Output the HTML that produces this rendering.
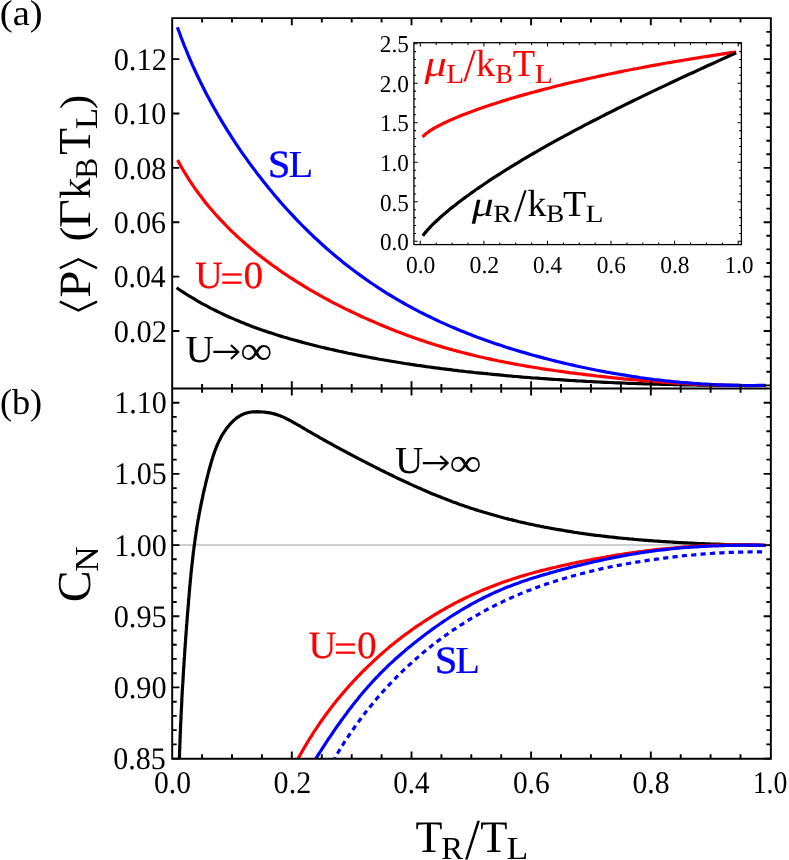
<!DOCTYPE html>
<html><head><meta charset="utf-8"><title>chart</title>
<style>html,body{margin:0;padding:0;background:#fff;}body{width:789px;height:860px;overflow:hidden;font-family:"Liberation Serif",serif;}svg{will-change:transform;}svg text{font-family:"Liberation Serif",serif;}</style></head>
<body>
<svg width="789" height="860" viewBox="0 0 789 860" font-family="'Liberation Serif', serif" text-rendering="geometricPrecision" style="display:block">
<rect width="789" height="860" fill="#fff"/>
<defs><clipPath id="ca"><rect x="172.2" y="18.3" width="598.2" height="370.09999999999997"/></clipPath><clipPath id="cb"><rect x="172.2" y="388.4" width="598.2" height="370.1"/></clipPath></defs>
<line x1="172.2" x2="770.4" y1="545.1" y2="545.1" stroke="#bebebe" stroke-width="1.5"/>
<path d="M176.6,287.7 L179.1,289.5 L181.6,291.2 L184.2,292.8 L186.8,294.5 L189.4,296.1 L192.0,297.7 L194.6,299.2 L197.2,300.8 L199.9,302.3 L202.5,303.8 L205.2,305.2 L207.9,306.7 L210.5,308.1 L213.2,309.4 L216.0,310.8 L218.7,312.1 L221.4,313.4 L224.1,314.7 L226.9,316.0 L229.6,317.2 L232.4,318.4 L235.2,319.6 L238.0,320.8 L240.8,322.0 L243.6,323.1 L246.4,324.2 L249.2,325.3 L252.0,326.4 L254.8,327.4 L257.7,328.4 L260.5,329.5 L263.4,330.5 L266.3,331.4 L269.1,332.4 L272.0,333.3 L274.9,334.3 L277.8,335.2 L280.7,336.1 L283.6,337.0 L286.5,337.8 L289.4,338.7 L292.3,339.5 L295.2,340.3 L298.1,341.1 L301.0,341.9 L304.0,342.7 L306.9,343.5 L309.9,344.3 L312.8,345.0 L315.7,345.7 L318.7,346.5 L321.6,347.2 L324.6,347.9 L327.6,348.6 L330.5,349.3 L333.5,349.9 L336.4,350.6 L339.4,351.3 L342.4,351.9 L345.3,352.5 L348.3,353.2 L351.3,353.8 L354.3,354.4 L357.2,355.0 L360.2,355.6 L363.2,356.2 L366.2,356.7 L369.2,357.3 L372.2,357.9 L375.2,358.4 L378.2,359.0 L381.1,359.5 L384.1,360.0 L387.1,360.5 L390.1,361.0 L393.1,361.5 L396.1,362.0 L399.1,362.5 L402.1,363.0 L405.2,363.5 L408.2,363.9 L411.2,364.4 L414.2,364.8 L417.2,365.3 L420.2,365.7 L423.2,366.1 L426.2,366.6 L429.2,367.0 L432.2,367.4 L435.3,367.8 L438.3,368.2 L441.3,368.6 L444.3,368.9 L447.3,369.3 L450.4,369.7 L453.4,370.1 L456.4,370.4 L459.4,370.8 L462.4,371.1 L465.5,371.5 L468.5,371.8 L471.5,372.1 L474.5,372.5 L477.5,372.8 L480.6,373.1 L483.6,373.4 L486.6,373.7 L489.6,374.0 L492.6,374.3 L495.7,374.6 L498.7,374.9 L501.7,375.2 L504.7,375.5 L507.8,375.8 L510.8,376.0 L513.8,376.3 L516.8,376.5 L519.9,376.8 L522.9,377.1 L525.9,377.3 L528.9,377.5 L532.0,377.8 L535.0,378.0 L538.0,378.2 L541.0,378.5 L544.1,378.7 L547.1,378.9 L550.1,379.1 L553.1,379.3 L556.2,379.5 L559.2,379.7 L562.2,379.9 L565.2,380.1 L568.3,380.3 L571.3,380.5 L574.3,380.7 L577.3,380.9 L580.4,381.0 L583.4,381.2 L586.4,381.4 L589.5,381.5 L592.5,381.7 L595.5,381.8 L598.5,382.0 L601.6,382.1 L604.6,382.3 L607.6,382.4 L610.7,382.5 L613.7,382.7 L616.7,382.8 L619.8,382.9 L622.8,383.0 L625.8,383.2 L628.8,383.3 L631.9,383.4 L634.9,383.5 L637.9,383.6 L641.0,383.7 L644.0,383.8 L647.0,383.9 L650.1,384.0 L653.1,384.1 L656.1,384.2 L659.2,384.2 L662.2,384.3 L665.2,384.4 L668.3,384.5 L671.3,384.5 L674.4,384.6 L677.4,384.7 L680.4,384.7 L683.5,384.8 L686.5,384.9 L689.5,384.9 L692.6,385.0 L695.6,385.0 L698.6,385.1 L701.7,385.1 L704.7,385.1 L707.8,385.2 L710.8,385.2 L713.8,385.2 L716.9,385.3 L719.9,385.3 L723.0,385.3 L726.0,385.4 L729.0,385.4 L732.1,385.4 L735.1,385.4 L738.2,385.4 L741.2,385.5 L744.2,385.5 L747.3,385.5 L750.3,385.5 L753.4,385.5 L756.4,385.5 L759.5,385.5 L762.5,385.5 L765.6,385.5" fill="none" stroke="#000000" stroke-width="3.2" stroke-linejoin="round"/>
<path d="M177.6,160.1 L179.2,163.1 L180.8,166.0 L182.5,169.0 L184.2,171.9 L186.0,174.7 L187.7,177.5 L189.5,180.4 L191.4,183.1 L193.2,185.9 L195.1,188.6 L197.1,191.3 L199.0,194.0 L201.0,196.6 L203.0,199.3 L205.1,201.9 L207.1,204.4 L209.2,207.0 L211.4,209.5 L213.5,212.0 L215.7,214.5 L217.9,216.9 L220.1,219.3 L222.4,221.7 L224.7,224.1 L227.0,226.5 L229.3,228.8 L231.6,231.1 L234.0,233.4 L236.4,235.7 L238.8,237.9 L241.3,240.1 L243.7,242.3 L246.2,244.5 L248.7,246.6 L251.2,248.7 L253.8,250.8 L256.3,252.9 L258.9,255.0 L261.5,257.0 L264.1,259.0 L266.8,261.0 L269.4,263.0 L272.1,265.0 L274.8,266.9 L277.5,268.8 L280.2,270.7 L282.9,272.6 L285.6,274.4 L288.4,276.3 L291.2,278.1 L294.0,279.9 L296.7,281.7 L299.6,283.4 L302.4,285.2 L305.2,286.9 L308.1,288.6 L310.9,290.3 L313.8,291.9 L316.7,293.6 L319.5,295.2 L322.4,296.8 L325.4,298.4 L328.3,300.0 L331.2,301.6 L334.1,303.1 L337.1,304.6 L340.0,306.1 L343.0,307.6 L346.0,309.1 L349.0,310.5 L352.0,312.0 L355.0,313.4 L358.0,314.8 L361.0,316.2 L364.0,317.6 L367.0,318.9 L370.0,320.3 L373.1,321.6 L376.1,322.9 L379.2,324.2 L382.2,325.5 L385.3,326.8 L388.4,328.0 L391.4,329.3 L394.5,330.5 L397.6,331.7 L400.7,332.8 L403.8,334.0 L406.9,335.2 L410.0,336.3 L413.1,337.4 L416.2,338.5 L419.3,339.6 L422.5,340.6 L425.6,341.7 L428.7,342.7 L431.9,343.7 L435.0,344.7 L438.2,345.7 L441.3,346.6 L444.5,347.6 L447.7,348.5 L450.8,349.4 L454.0,350.3 L457.2,351.1 L460.4,352.0 L463.6,352.8 L466.8,353.6 L470.0,354.4 L473.2,355.2 L476.4,356.0 L479.6,356.8 L482.8,357.5 L486.1,358.2 L489.3,358.9 L492.5,359.6 L495.7,360.3 L499.0,361.0 L502.2,361.6 L505.5,362.3 L508.7,362.9 L512.0,363.5 L515.2,364.1 L518.5,364.7 L521.7,365.3 L525.0,365.9 L528.2,366.4 L531.5,367.0 L534.8,367.5 L538.0,368.0 L541.3,368.6 L544.6,369.1 L547.9,369.6 L551.1,370.0 L554.4,370.5 L557.7,371.0 L561.0,371.4 L564.3,371.9 L567.5,372.3 L570.8,372.8 L574.1,373.2 L577.4,373.6 L580.7,374.0 L584.0,374.4 L587.3,374.8 L590.6,375.2 L593.9,375.6 L597.1,376.0 L600.4,376.3 L603.7,376.7 L607.0,377.1 L610.3,377.4 L613.6,377.8 L616.9,378.1 L620.2,378.4 L623.5,378.8 L626.8,379.1 L630.1,379.4 L633.4,379.7 L636.7,380.0 L640.0,380.3 L643.3,380.6 L646.6,380.9 L649.9,381.2 L653.2,381.4 L656.4,381.7 L659.7,381.9 L663.0,382.2 L666.3,382.4 L669.6,382.7 L672.9,382.9 L676.2,383.1 L679.5,383.3 L682.8,383.5 L686.1,383.7 L689.4,383.9 L692.7,384.0 L696.0,384.2 L699.3,384.4 L702.7,384.5 L706.0,384.6 L709.3,384.8 L712.6,384.9 L715.9,385.0 L719.2,385.1 L722.5,385.2 L725.8,385.3 L729.1,385.3 L732.4,385.4 L735.7,385.5 L739.0,385.5 L742.3,385.5 L745.6,385.6 L748.9,385.6 L752.2,385.6 L755.6,385.6 L758.9,385.5 L762.2,385.5 L765.5,385.5" fill="none" stroke="#ff0000" stroke-width="3.2" stroke-linejoin="round"/>
<path d="M177.4,27.2 L178.7,30.7 L180.0,34.2 L181.2,37.6 L182.6,41.1 L183.9,44.6 L185.3,48.0 L186.7,51.4 L188.1,54.9 L189.6,58.3 L191.0,61.7 L192.5,65.1 L194.1,68.5 L195.6,71.8 L197.2,75.2 L198.8,78.6 L200.4,81.9 L202.1,85.2 L203.7,88.6 L205.4,91.9 L207.1,95.2 L208.9,98.4 L210.6,101.7 L212.4,105.0 L214.2,108.2 L216.1,111.4 L217.9,114.7 L219.8,117.9 L221.7,121.1 L223.6,124.3 L225.5,127.4 L227.5,130.6 L229.5,133.7 L231.5,136.9 L233.5,140.0 L235.5,143.1 L237.6,146.2 L239.7,149.3 L241.8,152.3 L243.9,155.4 L246.1,158.4 L248.2,161.4 L250.4,164.4 L252.6,167.4 L254.9,170.4 L257.1,173.4 L259.4,176.3 L261.7,179.3 L264.0,182.2 L266.3,185.1 L268.6,188.0 L271.0,190.8 L273.4,193.7 L275.7,196.5 L278.2,199.4 L280.6,202.2 L283.1,205.0 L285.5,207.7 L288.0,210.5 L290.5,213.2 L293.1,215.9 L295.6,218.6 L298.2,221.3 L300.8,224.0 L303.4,226.6 L306.0,229.2 L308.7,231.8 L311.4,234.4 L314.0,237.0 L316.8,239.5 L319.5,242.0 L322.2,244.5 L325.0,247.0 L327.8,249.5 L330.6,251.9 L333.4,254.3 L336.3,256.7 L339.2,259.0 L342.0,261.4 L344.9,263.7 L347.9,266.0 L350.8,268.3 L353.8,270.5 L356.7,272.7 L359.7,274.9 L362.8,277.1 L365.8,279.3 L368.8,281.4 L371.9,283.5 L375.0,285.5 L378.1,287.6 L381.2,289.6 L384.3,291.6 L387.4,293.6 L390.6,295.5 L393.8,297.4 L397.0,299.3 L400.2,301.2 L403.4,303.0 L406.6,304.9 L409.9,306.6 L413.1,308.4 L416.4,310.1 L419.7,311.8 L423.0,313.5 L426.3,315.2 L429.7,316.8 L433.0,318.4 L436.3,320.0 L439.7,321.6 L443.1,323.1 L446.5,324.6 L449.9,326.1 L453.3,327.6 L456.7,329.0 L460.1,330.4 L463.6,331.8 L467.0,333.2 L470.5,334.6 L473.9,335.9 L477.4,337.2 L480.9,338.5 L484.4,339.8 L487.9,341.0 L491.4,342.2 L494.9,343.5 L498.5,344.6 L502.0,345.8 L505.5,347.0 L509.1,348.1 L512.7,349.2 L516.2,350.3 L519.8,351.4 L523.4,352.4 L526.9,353.4 L530.5,354.5 L534.1,355.5 L537.7,356.4 L541.3,357.4 L544.9,358.4 L548.5,359.3 L552.1,360.2 L555.7,361.1 L559.4,362.0 L563.0,362.9 L566.6,363.7 L570.2,364.5 L573.9,365.4 L577.5,366.2 L581.1,367.0 L584.8,367.7 L588.4,368.5 L592.0,369.2 L595.7,370.0 L599.3,370.7 L603.0,371.4 L606.6,372.1 L610.3,372.7 L613.9,373.4 L617.6,374.0 L621.3,374.6 L624.9,375.2 L628.6,375.8 L632.2,376.4 L635.9,376.9 L639.6,377.5 L643.2,378.0 L646.9,378.5 L650.6,379.0 L654.3,379.5 L658.0,379.9 L661.6,380.3 L665.3,380.8 L669.0,381.2 L672.7,381.6 L676.4,381.9 L680.1,382.3 L683.8,382.6 L687.5,382.9 L691.2,383.2 L694.9,383.5 L698.6,383.7 L702.3,384.0 L706.0,384.2 L709.7,384.4 L713.4,384.6 L717.1,384.8 L720.8,384.9 L724.5,385.1 L728.3,385.2 L732.0,385.3 L735.7,385.4 L739.4,385.4 L743.2,385.5 L746.9,385.5 L750.6,385.5 L754.4,385.5 L758.1,385.4 L761.8,385.4 L765.6,385.3" fill="none" stroke="#0000ff" stroke-width="3.2" stroke-linejoin="round"/>
<path d="M179.3,762.0 L179.4,760.2 L179.4,758.4 L179.5,756.5 L179.5,754.7 L179.6,752.9 L179.6,751.1 L179.7,749.2 L179.8,747.4 L179.8,745.6 L179.9,743.8 L180.0,741.9 L180.0,740.1 L180.1,738.3 L180.2,736.5 L180.2,734.6 L180.3,732.8 L180.4,731.0 L180.5,729.2 L180.5,727.4 L180.6,725.5 L180.7,723.7 L180.8,721.9 L180.9,720.1 L181.0,718.3 L181.0,716.4 L181.1,714.6 L181.2,712.8 L181.3,711.0 L181.4,709.2 L181.5,707.3 L181.6,705.5 L181.7,703.7 L181.8,701.9 L181.8,700.1 L181.9,698.2 L182.0,696.4 L182.1,694.6 L182.2,692.8 L182.3,691.0 L182.4,689.1 L182.5,687.3 L182.6,685.5 L182.8,683.7 L182.9,681.9 L183.0,680.1 L183.1,678.2 L183.2,676.4 L183.3,674.6 L183.4,672.8 L183.5,671.0 L183.6,669.1 L183.7,667.3 L183.9,665.5 L184.0,663.7 L184.1,661.9 L184.2,660.1 L184.3,658.2 L184.5,656.4 L184.6,654.6 L184.7,652.8 L184.8,651.0 L184.9,649.2 L185.1,647.3 L185.2,645.5 L185.3,643.7 L185.5,641.9 L185.6,640.1 L185.7,638.3 L185.8,636.4 L186.0,634.6 L186.1,632.8 L186.2,631.0 L186.4,629.2 L186.5,627.3 L186.6,625.5 L186.8,623.7 L186.9,621.9 L187.1,620.1 L187.2,618.3 L187.3,616.4 L187.5,614.6 L187.6,612.8 L187.8,611.0 L187.9,609.2 L188.1,607.3 L188.2,605.5 L188.4,603.7 L188.5,601.9 L188.6,600.1 L188.8,598.2 L189.0,596.4 L189.1,594.6 L189.3,592.8 L189.4,591.0 L189.6,589.1 L189.7,587.3 L189.9,585.5 L190.1,583.7 L190.2,581.9 L190.4,580.0 L190.6,578.2 L190.8,576.4 L190.9,574.6 L191.1,572.8 L191.3,571.0 L191.5,569.1 L191.7,567.3 L191.9,565.5 L192.1,563.7 L192.3,561.9 L192.5,560.1 L192.7,558.3 L192.9,556.4 L193.1,554.6 L193.3,552.8 L193.5,551.0 L193.8,549.2 L194.0,547.4 L194.2,545.6 L194.5,543.8 L194.7,542.0 L195.0,540.2 L195.2,538.4 L195.5,536.6 L195.8,534.8 L196.0,533.0 L196.3,531.2 L196.6,529.4 L196.9,527.6 L197.1,525.8 L197.4,524.0 L197.7,522.2 L198.0,520.4 L198.4,518.6 L198.7,516.9 L199.0,515.1 L199.3,513.3 L199.7,511.5 L200.0,509.7 L200.4,507.9 L200.7,506.2 L201.1,504.4 L201.4,502.6 L201.8,500.8 L202.2,499.0 L202.6,497.3 L202.9,495.5 L203.3,493.7 L203.7,491.9 L204.1,490.2 L204.5,488.4 L205.0,486.6 L205.4,484.8 L205.8,483.0 L206.2,481.3 L206.7,479.5 L207.1,477.7 L207.6,475.9 L208.0,474.1 L208.5,472.4 L208.9,470.6 L209.4,468.8 L209.9,467.0 L210.4,465.2 L210.9,463.5 L211.4,461.7 L211.9,459.9 L212.5,458.2 L213.0,456.4 L213.6,454.7 L214.2,452.9 L214.8,451.2 L215.4,449.5 L216.1,447.8 L216.8,446.1 L217.5,444.4 L218.2,442.8 L219.0,441.1 L219.8,439.5 L220.7,437.9 L221.5,436.3 L222.4,434.7 L223.4,433.2 L224.3,431.7 L225.4,430.2 L226.4,428.7 L227.5,427.2 L228.7,425.8 L229.8,424.4 L231.1,423.1 L232.3,421.8 L233.7,420.5 L235.0,419.4 L236.4,418.2 L237.9,417.2 L239.4,416.2 L240.9,415.3 L242.5,414.5 L244.1,413.8 L245.8,413.2 L247.5,412.7 L249.3,412.3 L251.1,412.0 L253.0,411.9 L254.9,411.8 L256.8,411.7 L258.7,411.8 L260.6,411.9 L262.4,412.0 L264.3,412.2 L266.1,412.4 L268.0,412.6 L269.7,412.9 L271.5,413.2 L273.2,413.6 L275.0,414.1 L276.7,414.6 L278.3,415.2 L280.0,415.8 L281.7,416.4 L283.3,417.1 L284.9,417.9 L286.5,418.7 L288.1,419.5 L289.7,420.3 L291.3,421.2 L292.9,422.1 L294.5,423.0 L296.1,423.9 L297.7,424.8 L299.3,425.7 L300.9,426.7 L302.5,427.6 L304.1,428.5 L305.7,429.5 L307.2,430.4 L308.8,431.3 L310.4,432.2 L312.0,433.2 L313.6,434.1 L315.2,435.0 L316.9,435.9 L318.5,436.8 L320.1,437.8 L321.7,438.7 L323.3,439.6 L324.9,440.5 L326.5,441.4 L328.1,442.3 L329.7,443.1 L331.3,444.0 L332.9,444.9 L334.5,445.8 L336.1,446.7 L337.7,447.5 L339.3,448.4 L340.9,449.3 L342.5,450.1 L344.1,451.0 L345.7,451.8 L347.3,452.7 L348.9,453.5 L350.5,454.4 L352.1,455.2 L353.7,456.1 L355.3,456.9 L356.9,457.8 L358.5,458.6 L360.1,459.4 L361.8,460.3 L363.4,461.1 L365.0,461.9 L366.6,462.8 L368.2,463.6 L369.8,464.4 L371.5,465.2 L373.1,466.1 L374.7,466.9 L376.3,467.7 L378.0,468.5 L379.6,469.4 L381.2,470.2 L382.9,471.0 L384.5,471.8 L386.1,472.6 L387.8,473.4 L389.4,474.2 L391.1,475.0 L392.7,475.8 L394.3,476.6 L396.0,477.4 L397.6,478.2 L399.3,479.0 L400.9,479.7 L402.6,480.5 L404.2,481.3 L405.9,482.1 L407.6,482.8 L409.2,483.6 L410.9,484.4 L412.5,485.1 L414.2,485.9 L415.9,486.6 L417.5,487.4 L419.2,488.1 L420.9,488.8 L422.6,489.6 L424.2,490.3 L425.9,491.0 L427.6,491.7 L429.3,492.5 L430.9,493.2 L432.6,493.9 L434.3,494.6 L436.0,495.3 L437.7,495.9 L439.4,496.6 L441.1,497.3 L442.8,498.0 L444.5,498.6 L446.2,499.3 L447.9,499.9 L449.6,500.6 L451.3,501.2 L453.0,501.9 L454.7,502.5 L456.4,503.1 L458.1,503.7 L459.8,504.4 L461.5,505.0 L463.3,505.6 L465.0,506.2 L466.7,506.7 L468.4,507.3 L470.1,507.9 L471.9,508.5 L473.6,509.0 L475.3,509.6 L477.1,510.1 L478.8,510.7 L480.5,511.2 L482.3,511.7 L484.0,512.3 L485.8,512.8 L487.5,513.3 L489.2,513.8 L491.0,514.3 L492.7,514.8 L494.5,515.3 L496.2,515.8 L498.0,516.3 L499.7,516.8 L501.5,517.2 L503.3,517.7 L505.0,518.2 L506.8,518.6 L508.5,519.1 L510.3,519.5 L512.1,519.9 L513.8,520.4 L515.6,520.8 L517.4,521.2 L519.1,521.7 L520.9,522.1 L522.7,522.5 L524.4,522.9 L526.2,523.3 L528.0,523.7 L529.8,524.1 L531.6,524.4 L533.3,524.8 L535.1,525.2 L536.9,525.6 L538.7,525.9 L540.5,526.3 L542.2,526.6 L544.0,527.0 L545.8,527.3 L547.6,527.7 L549.4,528.0 L551.2,528.3 L553.0,528.7 L554.8,529.0 L556.6,529.3 L558.4,529.6 L560.2,529.9 L562.0,530.2 L563.8,530.5 L565.6,530.8 L567.4,531.1 L569.2,531.4 L571.0,531.7 L572.8,532.0 L574.6,532.3 L576.4,532.5 L578.2,532.8 L580.0,533.1 L581.8,533.3 L583.6,533.6 L585.4,533.8 L587.2,534.1 L589.0,534.3 L590.8,534.6 L592.6,534.8 L594.5,535.1 L596.3,535.3 L598.1,535.5 L599.9,535.7 L601.7,536.0 L603.5,536.2 L605.3,536.4 L607.2,536.6 L609.0,536.8 L610.8,537.0 L612.6,537.2 L614.4,537.4 L616.2,537.6 L618.1,537.8 L619.9,538.0 L621.7,538.2 L623.5,538.3 L625.3,538.5 L627.2,538.7 L629.0,538.9 L630.8,539.0 L632.6,539.2 L634.4,539.4 L636.3,539.5 L638.1,539.7 L639.9,539.8 L641.7,540.0 L643.6,540.1 L645.4,540.3 L647.2,540.4 L649.0,540.6 L650.8,540.7 L652.7,540.8 L654.5,541.0 L656.3,541.1 L658.1,541.2 L660.0,541.3 L661.8,541.5 L663.6,541.6 L665.4,541.7 L667.3,541.8 L669.1,541.9 L670.9,542.0 L672.7,542.1 L674.6,542.3 L676.4,542.4 L678.2,542.5 L680.0,542.6 L681.9,542.7 L683.7,542.8 L685.5,542.8 L687.3,542.9 L689.1,543.0 L691.0,543.1 L692.8,543.2 L694.6,543.3 L696.4,543.4 L698.3,543.5 L700.1,543.5 L701.9,543.6 L703.7,543.7 L705.5,543.8 L707.4,543.8 L709.2,543.9 L711.0,544.0 L712.8,544.0 L714.6,544.1 L716.4,544.2 L718.3,544.2 L720.1,544.3 L721.9,544.4 L723.7,544.4 L725.5,544.5 L727.3,544.6 L729.2,544.6 L731.0,544.7 L732.8,544.7 L734.6,544.8 L736.4,544.8 L738.2,544.9 L740.0,544.9 L741.8,545.0 L743.6,545.0 L745.5,545.1 L747.3,545.1 L749.1,545.2 L750.9,545.2 L752.7,545.3 L754.5,545.3 L756.3,545.4 L758.1,545.4 L759.9,545.4 L761.7,545.5 L763.5,545.5 L765.3,545.6" fill="none" stroke="#000000" stroke-width="3.2" stroke-linejoin="round" clip-path="url(#cb)"/>
<path d="M296.3,762.1 L297.6,759.7 L298.9,757.2 L300.2,754.8 L301.6,752.4 L302.9,750.0 L304.3,747.6 L305.7,745.2 L307.1,742.9 L308.5,740.5 L310.0,738.1 L311.5,735.8 L312.9,733.5 L314.4,731.2 L316.0,728.9 L317.5,726.6 L319.0,724.3 L320.6,722.0 L322.2,719.8 L323.8,717.5 L325.4,715.3 L327.0,713.1 L328.7,710.9 L330.3,708.7 L332.0,706.5 L333.7,704.3 L335.4,702.2 L337.1,700.0 L338.9,697.9 L340.6,695.8 L342.4,693.7 L344.2,691.6 L346.0,689.5 L347.8,687.5 L349.6,685.4 L351.5,683.4 L353.3,681.3 L355.2,679.3 L357.1,677.3 L359.0,675.4 L360.9,673.4 L362.8,671.4 L364.8,669.5 L366.7,667.6 L368.7,665.7 L370.7,663.8 L372.7,661.9 L374.7,660.0 L376.7,658.2 L378.7,656.3 L380.8,654.5 L382.8,652.7 L384.9,650.9 L387.0,649.1 L389.1,647.3 L391.2,645.6 L393.3,643.9 L395.5,642.1 L397.6,640.4 L399.8,638.8 L402.0,637.1 L404.2,635.4 L406.4,633.8 L408.6,632.2 L410.8,630.6 L413.0,629.0 L415.3,627.4 L417.5,625.8 L419.8,624.3 L422.1,622.8 L424.3,621.3 L426.6,619.8 L429.0,618.3 L431.3,616.8 L433.6,615.4 L436.0,614.0 L438.3,612.6 L440.7,611.2 L443.0,609.8 L445.4,608.5 L447.8,607.1 L450.2,605.8 L452.6,604.5 L455.1,603.2 L457.5,601.9 L459.9,600.7 L462.4,599.5 L464.8,598.3 L467.3,597.1 L469.8,595.9 L472.3,594.7 L474.8,593.6 L477.3,592.5 L479.8,591.4 L482.3,590.3 L484.8,589.2 L487.4,588.2 L489.9,587.2 L492.5,586.2 L495.0,585.2 L497.6,584.2 L500.2,583.3 L502.8,582.3 L505.4,581.4 L508.0,580.5 L510.6,579.7 L513.2,578.8 L515.8,578.0 L518.4,577.1 L521.1,576.3 L523.7,575.6 L526.3,574.8 L529.0,574.0 L531.6,573.3 L534.3,572.5 L537.0,571.8 L539.6,571.1 L542.3,570.4 L545.0,569.8 L547.7,569.1 L550.3,568.4 L553.0,567.8 L555.7,567.2 L558.4,566.5 L561.1,565.9 L563.8,565.3 L566.5,564.7 L569.2,564.1 L571.8,563.5 L574.5,563.0 L577.2,562.4 L579.9,561.8 L582.6,561.3 L585.3,560.8 L588.0,560.2 L590.7,559.7 L593.5,559.2 L596.2,558.7 L598.9,558.2 L601.6,557.7 L604.3,557.2 L607.0,556.7 L609.7,556.3 L612.4,555.8 L615.1,555.4 L617.8,554.9 L620.5,554.5 L623.3,554.1 L626.0,553.7 L628.7,553.3 L631.4,552.9 L634.1,552.5 L636.9,552.1 L639.6,551.7 L642.3,551.4 L645.0,551.0 L647.7,550.7 L650.5,550.4 L653.2,550.0 L655.9,549.7 L658.6,549.4 L661.4,549.1 L664.1,548.8 L666.8,548.5 L669.5,548.3 L672.3,548.0 L675.0,547.8 L677.7,547.5 L680.4,547.3 L683.2,547.1 L685.9,546.9 L688.6,546.7 L691.4,546.5 L694.1,546.3 L696.8,546.1 L699.6,546.0 L702.3,545.8 L705.1,545.7 L707.8,545.5 L710.5,545.4 L713.3,545.3 L716.0,545.2 L718.7,545.1 L721.5,545.0 L724.2,545.0 L727.0,544.9 L729.7,544.9 L732.5,544.8 L735.2,544.8 L738.0,544.8 L740.7,544.8 L743.5,544.8 L746.2,544.8 L749.0,544.8 L751.7,544.9 L754.5,544.9 L757.2,545.0 L760.0,545.1 L762.8,545.2 L765.5,545.3" fill="none" stroke="#ff0000" stroke-width="3.2" stroke-linejoin="round" clip-path="url(#cb)"/>
<path d="M332.9,761.9 L334.1,759.7 L335.3,757.4 L336.5,755.2 L337.8,753.0 L339.1,750.8 L340.4,748.6 L341.7,746.5 L343.1,744.3 L344.4,742.2 L345.8,740.1 L347.2,737.9 L348.7,735.8 L350.1,733.7 L351.5,731.6 L353.0,729.5 L354.4,727.5 L355.9,725.4 L357.4,723.3 L358.9,721.3 L360.4,719.2 L361.9,717.2 L363.5,715.2 L365.0,713.1 L366.6,711.1 L368.2,709.1 L369.8,707.1 L371.4,705.2 L373.0,703.2 L374.6,701.2 L376.2,699.3 L377.9,697.3 L379.6,695.4 L381.2,693.5 L382.9,691.6 L384.6,689.7 L386.3,687.8 L388.1,685.9 L389.8,684.1 L391.6,682.2 L393.3,680.4 L395.1,678.6 L396.9,676.7 L398.7,674.9 L400.5,673.2 L402.3,671.4 L404.2,669.6 L406.0,667.9 L407.9,666.1 L409.8,664.4 L411.7,662.7 L413.5,661.0 L415.5,659.3 L417.4,657.6 L419.3,655.9 L421.3,654.3 L423.2,652.6 L425.2,651.0 L427.1,649.4 L429.1,647.8 L431.1,646.2 L433.1,644.6 L435.1,643.1 L437.2,641.5 L439.2,640.0 L441.3,638.5 L443.3,637.0 L445.4,635.5 L447.5,634.0 L449.5,632.6 L451.6,631.1 L453.7,629.7 L455.9,628.3 L458.0,626.9 L460.1,625.5 L462.3,624.1 L464.4,622.7 L466.6,621.4 L468.7,620.0 L470.9,618.7 L473.1,617.4 L475.3,616.1 L477.5,614.9 L479.7,613.6 L481.9,612.4 L484.2,611.1 L486.4,609.9 L488.6,608.7 L490.9,607.5 L493.2,606.4 L495.4,605.2 L497.7,604.1 L500.0,603.0 L502.3,601.9 L504.6,600.8 L506.9,599.7 L509.2,598.7 L511.5,597.6 L513.8,596.6 L516.2,595.6 L518.5,594.6 L520.8,593.6 L523.2,592.7 L525.6,591.7 L527.9,590.8 L530.3,589.9 L532.7,589.0 L535.0,588.1 L537.4,587.2 L539.8,586.3 L542.2,585.5 L544.6,584.7 L547.0,583.8 L549.5,583.0 L551.9,582.2 L554.3,581.5 L556.7,580.7 L559.2,579.9 L561.6,579.2 L564.0,578.5 L566.5,577.7 L568.9,577.0 L571.4,576.3 L573.8,575.7 L576.3,575.0 L578.8,574.3 L581.2,573.7 L583.7,573.1 L586.2,572.4 L588.7,571.8 L591.1,571.2 L593.6,570.6 L596.1,570.1 L598.6,569.5 L601.1,568.9 L603.6,568.4 L606.1,567.9 L608.6,567.3 L611.1,566.8 L613.6,566.3 L616.1,565.8 L618.6,565.3 L621.1,564.9 L623.6,564.4 L626.2,563.9 L628.7,563.5 L631.2,563.0 L633.7,562.6 L636.2,562.2 L638.7,561.8 L641.3,561.4 L643.8,561.0 L646.3,560.6 L648.8,560.2 L651.3,559.8 L653.9,559.5 L656.4,559.1 L658.9,558.8 L661.4,558.4 L664.0,558.1 L666.5,557.8 L669.0,557.5 L671.5,557.2 L674.1,556.9 L676.6,556.6 L679.1,556.3 L681.6,556.0 L684.2,555.7 L686.7,555.5 L689.2,555.2 L691.7,555.0 L694.3,554.8 L696.8,554.5 L699.3,554.3 L701.9,554.1 L704.4,553.9 L706.9,553.7 L709.5,553.5 L712.0,553.4 L714.5,553.2 L717.1,553.1 L719.6,552.9 L722.2,552.8 L724.7,552.7 L727.2,552.5 L729.8,552.4 L732.3,552.3 L734.9,552.3 L737.4,552.2 L740.0,552.1 L742.5,552.1 L745.1,552.0 L747.6,552.0 L750.2,551.9 L752.7,551.9 L755.3,551.9 L757.8,551.9 L760.4,551.9 L763.0,551.9 L765.5,552.0" fill="none" stroke="#0000ff" stroke-width="3.2" stroke-linejoin="round" stroke-dasharray="5.2 4.2" clip-path="url(#cb)"/>
<path d="M313.7,762.1 L315.1,759.9 L316.5,757.6 L317.9,755.4 L319.3,753.1 L320.8,750.9 L322.2,748.6 L323.7,746.4 L325.1,744.2 L326.6,741.9 L328.0,739.7 L329.5,737.5 L331.0,735.3 L332.5,733.1 L334.0,730.9 L335.5,728.7 L337.0,726.5 L338.6,724.3 L340.1,722.2 L341.6,720.0 L343.2,717.9 L344.8,715.7 L346.4,713.6 L347.9,711.4 L349.6,709.3 L351.2,707.2 L352.8,705.1 L354.4,703.0 L356.1,701.0 L357.8,698.9 L359.4,696.8 L361.1,694.8 L362.8,692.8 L364.5,690.7 L366.3,688.7 L368.0,686.7 L369.8,684.8 L371.6,682.8 L373.3,680.8 L375.1,678.9 L377.0,677.0 L378.8,675.1 L380.6,673.2 L382.5,671.3 L384.4,669.4 L386.3,667.6 L388.2,665.7 L390.1,663.9 L392.1,662.1 L394.0,660.3 L396.0,658.5 L398.0,656.8 L400.0,655.0 L402.0,653.3 L404.0,651.6 L406.0,649.8 L408.0,648.1 L410.1,646.4 L412.2,644.8 L414.2,643.1 L416.3,641.4 L418.4,639.8 L420.5,638.2 L422.6,636.5 L424.7,634.9 L426.9,633.3 L429.0,631.7 L431.2,630.1 L433.3,628.6 L435.5,627.0 L437.7,625.5 L439.9,624.0 L442.1,622.4 L444.3,620.9 L446.5,619.5 L448.7,618.0 L450.9,616.5 L453.2,615.1 L455.5,613.7 L457.7,612.3 L460.0,610.9 L462.3,609.5 L464.6,608.2 L466.9,606.8 L469.2,605.5 L471.5,604.2 L473.8,602.9 L476.2,601.7 L478.5,600.4 L480.9,599.2 L483.2,598.0 L485.6,596.8 L488.0,595.7 L490.4,594.5 L492.8,593.4 L495.2,592.3 L497.6,591.2 L500.0,590.2 L502.5,589.1 L504.9,588.1 L507.4,587.1 L509.9,586.2 L512.3,585.2 L514.8,584.3 L517.3,583.4 L519.8,582.5 L522.3,581.6 L524.8,580.7 L527.3,579.9 L529.8,579.1 L532.3,578.3 L534.9,577.5 L537.4,576.7 L540.0,575.9 L542.5,575.1 L545.0,574.4 L547.6,573.7 L550.2,572.9 L552.7,572.2 L555.3,571.5 L557.8,570.8 L560.4,570.1 L563.0,569.4 L565.6,568.8 L568.1,568.1 L570.7,567.4 L573.3,566.8 L575.9,566.1 L578.5,565.5 L581.1,564.9 L583.6,564.2 L586.2,563.6 L588.8,563.0 L591.4,562.4 L594.0,561.8 L596.6,561.2 L599.2,560.7 L601.8,560.1 L604.4,559.5 L607.0,559.0 L609.6,558.4 L612.2,557.9 L614.8,557.4 L617.4,556.9 L620.1,556.4 L622.7,555.9 L625.3,555.4 L627.9,554.9 L630.5,554.5 L633.1,554.0 L635.8,553.6 L638.4,553.1 L641.0,552.7 L643.6,552.3 L646.3,551.9 L648.9,551.6 L651.5,551.2 L654.2,550.8 L656.8,550.5 L659.4,550.2 L662.1,549.9 L664.7,549.6 L667.3,549.3 L670.0,549.0 L672.6,548.7 L675.3,548.5 L677.9,548.2 L680.5,548.0 L683.2,547.7 L685.8,547.5 L688.5,547.3 L691.1,547.1 L693.8,547.0 L696.4,546.8 L699.1,546.6 L701.7,546.5 L704.4,546.3 L707.0,546.2 L709.7,546.1 L712.3,546.0 L715.0,545.9 L717.7,545.8 L720.3,545.7 L723.0,545.6 L725.6,545.5 L728.3,545.4 L730.9,545.4 L733.6,545.3 L736.3,545.3 L738.9,545.3 L741.6,545.2 L744.2,545.2 L746.9,545.2 L749.6,545.2 L752.2,545.2 L754.9,545.2 L757.5,545.2 L760.2,545.2 L762.9,545.3 L765.5,545.3" fill="none" stroke="#0000ff" stroke-width="3.2" stroke-linejoin="round" clip-path="url(#cb)"/>
<rect x="413.9" y="42.7" width="327.5" height="201.89999999999998" fill="none" stroke="#000" stroke-width="1.3"/>
<path d="M422.6,137.0 L423.0,136.6 L423.4,136.1 L423.8,135.7 L424.3,135.2 L424.8,134.7 L425.4,134.2 L426.0,133.7 L426.6,133.2 L427.3,132.7 L428.0,132.2 L428.8,131.6 L429.6,131.1 L430.4,130.5 L431.3,130.0 L432.2,129.4 L433.1,128.8 L434.1,128.3 L435.1,127.7 L436.2,127.1 L437.3,126.5 L438.4,125.9 L439.6,125.3 L440.8,124.6 L442.1,124.0 L443.4,123.4 L444.7,122.7 L446.1,122.1 L447.5,121.4 L448.9,120.8 L450.4,120.1 L451.9,119.4 L453.5,118.8 L455.1,118.1 L456.7,117.4 L458.4,116.7 L460.1,116.0 L461.8,115.3 L463.6,114.6 L465.5,113.9 L467.3,113.2 L469.2,112.4 L471.2,111.7 L473.2,111.0 L475.2,110.2 L477.2,109.5 L479.3,108.8 L481.5,108.0 L483.6,107.3 L485.9,106.5 L488.1,105.8 L490.4,105.0 L492.7,104.2 L495.1,103.5 L497.5,102.7 L499.9,101.9 L502.4,101.1 L504.9,100.4 L507.5,99.6 L510.1,98.8 L512.7,98.0 L515.4,97.2 L518.1,96.4 L520.9,95.6 L523.6,94.9 L526.5,94.1 L529.3,93.3 L532.2,92.5 L535.2,91.7 L538.2,90.9 L541.2,90.1 L544.2,89.3 L547.3,88.5 L550.5,87.7 L553.6,86.8 L556.8,86.0 L560.1,85.2 L563.4,84.4 L566.7,83.6 L570.1,82.8 L573.5,82.0 L576.9,81.2 L580.4,80.4 L583.9,79.6 L587.5,78.8 L591.1,78.0 L594.7,77.2 L598.4,76.4 L602.1,75.6 L605.8,74.8 L609.6,74.0 L613.4,73.2 L617.3,72.4 L621.2,71.6 L625.1,70.8 L629.1,70.0 L633.1,69.2 L637.2,68.5 L641.3,67.7 L645.4,66.9 L649.6,66.1 L653.8,65.3 L658.0,64.6 L662.3,63.8 L666.6,63.0 L671.0,62.3 L675.4,61.5 L679.8,60.8 L684.3,60.0 L688.8,59.3 L693.4,58.5 L698.0,57.8 L702.6,57.0 L707.3,56.3 L712.0,55.6 L716.7,54.8 L721.5,54.1 L726.3,53.4 L731.2,52.7 L736.1,52.0" fill="none" stroke="#ff0000" stroke-width="3.2" stroke-linejoin="round"/>
<path d="M422.9,235.8 L423.3,235.2 L423.7,234.6 L424.2,234.0 L424.7,233.3 L425.3,232.6 L425.9,231.9 L426.5,231.2 L427.1,230.4 L427.8,229.6 L428.6,228.8 L429.4,228.0 L430.2,227.1 L431.0,226.2 L431.9,225.3 L432.8,224.4 L433.8,223.4 L434.8,222.5 L435.9,221.5 L436.9,220.5 L438.1,219.5 L439.2,218.4 L440.4,217.3 L441.6,216.2 L442.9,215.1 L444.2,214.0 L445.6,212.9 L446.9,211.7 L448.4,210.5 L449.8,209.3 L451.3,208.1 L452.8,206.9 L454.4,205.7 L456.0,204.4 L457.7,203.1 L459.4,201.8 L461.1,200.5 L462.8,199.2 L464.6,197.9 L466.5,196.5 L468.4,195.2 L470.3,193.8 L472.2,192.4 L474.2,191.0 L476.2,189.5 L478.3,188.1 L480.4,186.7 L482.5,185.2 L484.7,183.7 L486.9,182.2 L489.2,180.7 L491.5,179.2 L493.8,177.7 L496.2,176.2 L498.6,174.6 L501.0,173.1 L503.5,171.5 L506.0,169.9 L508.6,168.3 L511.2,166.7 L513.8,165.1 L516.5,163.5 L519.2,161.8 L521.9,160.2 L524.7,158.5 L527.5,156.9 L530.4,155.2 L533.3,153.5 L536.2,151.8 L539.2,150.1 L542.2,148.4 L545.3,146.7 L548.3,144.9 L551.5,143.2 L554.6,141.4 L557.8,139.7 L561.1,137.9 L564.3,136.1 L567.7,134.3 L571.0,132.5 L574.4,130.7 L577.8,128.9 L581.3,127.1 L584.8,125.2 L588.3,123.4 L591.9,121.5 L595.5,119.7 L599.2,117.8 L602.9,115.9 L606.6,114.0 L610.4,112.1 L614.2,110.2 L618.0,108.3 L621.9,106.4 L625.8,104.4 L629.8,102.5 L633.8,100.5 L637.8,98.6 L641.9,96.6 L646.0,94.6 L650.1,92.6 L654.3,90.6 L658.5,88.6 L662.8,86.6 L667.1,84.6 L671.4,82.5 L675.8,80.5 L680.2,78.4 L684.7,76.3 L689.1,74.3 L693.7,72.2 L698.2,70.1 L702.8,68.0 L707.5,65.8 L712.2,63.7 L716.9,61.6 L721.6,59.4 L726.4,57.2 L731.2,55.1 L736.1,52.9" fill="none" stroke="#000000" stroke-width="3.2" stroke-linejoin="round"/>
<path d="M420.3,244.6 v-3.8 M420.3,42.7 v3.8 M436.2,244.6 v-2.2 M436.2,42.7 v2.2 M452.1,244.6 v-2.2 M452.1,42.7 v2.2 M468.0,244.6 v-2.2 M468.0,42.7 v2.2 M483.9,244.6 v-3.8 M483.9,42.7 v3.8 M499.8,244.6 v-2.2 M499.8,42.7 v2.2 M515.7,244.6 v-2.2 M515.7,42.7 v2.2 M531.6,244.6 v-2.2 M531.6,42.7 v2.2 M547.5,244.6 v-3.8 M547.5,42.7 v3.8 M563.4,244.6 v-2.2 M563.4,42.7 v2.2 M579.2,244.6 v-2.2 M579.2,42.7 v2.2 M595.1,244.6 v-2.2 M595.1,42.7 v2.2 M611.0,244.6 v-3.8 M611.0,42.7 v3.8 M626.9,244.6 v-2.2 M626.9,42.7 v2.2 M642.8,244.6 v-2.2 M642.8,42.7 v2.2 M658.7,244.6 v-2.2 M658.7,42.7 v2.2 M674.6,244.6 v-3.8 M674.6,42.7 v3.8 M690.5,244.6 v-2.2 M690.5,42.7 v2.2 M706.4,244.6 v-2.2 M706.4,42.7 v2.2 M722.3,244.6 v-2.2 M722.3,42.7 v2.2 M738.2,244.6 v-3.8 M738.2,42.7 v3.8 M413.9,241.3 h3.8 M741.4,241.3 h-3.8 M413.9,233.4 h2.2 M741.4,233.4 h-2.2 M413.9,225.5 h2.2 M741.4,225.5 h-2.2 M413.9,217.6 h2.2 M741.4,217.6 h-2.2 M413.9,209.7 h2.2 M741.4,209.7 h-2.2 M413.9,201.8 h3.8 M741.4,201.8 h-3.8 M413.9,193.9 h2.2 M741.4,193.9 h-2.2 M413.9,186.0 h2.2 M741.4,186.0 h-2.2 M413.9,178.1 h2.2 M741.4,178.1 h-2.2 M413.9,170.2 h2.2 M741.4,170.2 h-2.2 M413.9,162.2 h3.8 M741.4,162.2 h-3.8 M413.9,154.3 h2.2 M741.4,154.3 h-2.2 M413.9,146.4 h2.2 M741.4,146.4 h-2.2 M413.9,138.5 h2.2 M741.4,138.5 h-2.2 M413.9,130.6 h2.2 M741.4,130.6 h-2.2 M413.9,122.7 h3.8 M741.4,122.7 h-3.8 M413.9,114.8 h2.2 M741.4,114.8 h-2.2 M413.9,106.9 h2.2 M741.4,106.9 h-2.2 M413.9,99.0 h2.2 M741.4,99.0 h-2.2 M413.9,91.1 h2.2 M741.4,91.1 h-2.2 M413.9,83.2 h3.8 M741.4,83.2 h-3.8 M413.9,75.3 h2.2 M741.4,75.3 h-2.2 M413.9,67.4 h2.2 M741.4,67.4 h-2.2 M413.9,59.5 h2.2 M741.4,59.5 h-2.2 M413.9,51.6 h2.2 M741.4,51.6 h-2.2 M413.9,43.7 h3.8 M741.4,43.7 h-3.8" stroke="#000" stroke-width="1.05" fill="none"/>
<path d="M172.2,18.1 H770.85 V758.65 H172.2 Z M172.2,388.4 H770.85" fill="none" stroke="#000" stroke-width="1.95"/>
<path d="M202.1,18.1 v4.4 M202.1,384.0 v8.8 M202.1,758.65 v-4.4 M232.0,18.1 v4.4 M232.0,384.0 v8.8 M232.0,758.65 v-4.4 M261.9,18.1 v4.4 M261.9,384.0 v8.8 M261.9,758.65 v-4.4 M291.8,18.1 v7.2 M291.8,381.2 v14.4 M291.8,758.65 v-7.2 M321.8,18.1 v4.4 M321.8,384.0 v8.8 M321.8,758.65 v-4.4 M351.7,18.1 v4.4 M351.7,384.0 v8.8 M351.7,758.65 v-4.4 M381.6,18.1 v4.4 M381.6,384.0 v8.8 M381.6,758.65 v-4.4 M411.5,18.1 v7.2 M411.5,381.2 v14.4 M411.5,758.65 v-7.2 M441.4,18.1 v4.4 M441.4,384.0 v8.8 M441.4,758.65 v-4.4 M471.3,18.1 v4.4 M471.3,384.0 v8.8 M471.3,758.65 v-4.4 M501.2,18.1 v4.4 M501.2,384.0 v8.8 M501.2,758.65 v-4.4 M531.1,18.1 v7.2 M531.1,381.2 v14.4 M531.1,758.65 v-7.2 M561.0,18.1 v4.4 M561.0,384.0 v8.8 M561.0,758.65 v-4.4 M590.9,18.1 v4.4 M590.9,384.0 v8.8 M590.9,758.65 v-4.4 M620.9,18.1 v4.4 M620.9,384.0 v8.8 M620.9,758.65 v-4.4 M650.8,18.1 v7.2 M650.8,381.2 v14.4 M650.8,758.65 v-7.2 M680.7,18.1 v4.4 M680.7,384.0 v8.8 M680.7,758.65 v-4.4 M710.6,18.1 v4.4 M710.6,384.0 v8.8 M710.6,758.65 v-4.4 M740.5,18.1 v4.4 M740.5,384.0 v8.8 M740.5,758.65 v-4.4 M770.85,385.4 h-7.2 M770.85,371.8 h-4.5 M770.85,358.2 h-4.5 M770.85,344.6 h-4.5 M770.85,331.0 h-7.2 M172.2,331.0 h7.2 M770.85,317.4 h-4.5 M770.85,303.8 h-4.5 M770.85,290.2 h-4.5 M770.85,276.6 h-7.2 M172.2,276.6 h7.2 M770.85,263.0 h-4.5 M770.85,249.4 h-4.5 M770.85,235.8 h-4.5 M770.85,222.2 h-7.2 M172.2,222.2 h7.2 M770.85,208.6 h-4.5 M770.85,195.1 h-4.5 M770.85,181.5 h-4.5 M770.85,167.9 h-7.2 M172.2,167.9 h7.2 M770.85,154.3 h-4.5 M770.85,140.7 h-4.5 M770.85,127.1 h-4.5 M770.85,113.5 h-7.2 M172.2,113.5 h7.2 M770.85,99.9 h-4.5 M770.85,86.3 h-4.5 M770.85,72.7 h-4.5 M770.85,59.1 h-7.2 M172.2,59.1 h7.2 M770.85,45.5 h-4.5 M770.85,31.9 h-4.5 M172.2,758.6 h7.2 M770.85,758.6 h-7.2 M172.2,744.4 h4.5 M770.85,744.4 h-4.5 M172.2,730.1 h4.5 M770.85,730.1 h-4.5 M172.2,715.9 h4.5 M770.85,715.9 h-4.5 M172.2,701.7 h4.5 M770.85,701.7 h-4.5 M172.2,687.4 h7.2 M770.85,687.4 h-7.2 M172.2,673.2 h4.5 M770.85,673.2 h-4.5 M172.2,658.9 h4.5 M770.85,658.9 h-4.5 M172.2,644.7 h4.5 M770.85,644.7 h-4.5 M172.2,630.5 h4.5 M770.85,630.5 h-4.5 M172.2,616.2 h7.2 M770.85,616.2 h-7.2 M172.2,602.0 h4.5 M770.85,602.0 h-4.5 M172.2,587.8 h4.5 M770.85,587.8 h-4.5 M172.2,573.5 h4.5 M770.85,573.5 h-4.5 M172.2,559.3 h4.5 M770.85,559.3 h-4.5 M172.2,545.1 h7.2 M770.85,545.1 h-7.2 M172.2,530.8 h4.5 M770.85,530.8 h-4.5 M172.2,516.6 h4.5 M770.85,516.6 h-4.5 M172.2,502.4 h4.5 M770.85,502.4 h-4.5 M172.2,488.1 h4.5 M770.85,488.1 h-4.5 M172.2,473.9 h7.2 M770.85,473.9 h-7.2 M172.2,459.6 h4.5 M770.85,459.6 h-4.5 M172.2,445.4 h4.5 M770.85,445.4 h-4.5 M172.2,431.2 h4.5 M770.85,431.2 h-4.5 M172.2,416.9 h4.5 M770.85,416.9 h-4.5 M172.2,402.7 h7.2 M770.85,402.7 h-7.2" stroke="#000" stroke-width="1.9" fill="none"/>
<text transform="translate(113.64,341.80) scale(0.9658,1)" font-size="31.5" fill="#000">0.02</text>
<text transform="translate(113.67,287.42) scale(0.9432,1)" font-size="31.5" fill="#000">0.04</text>
<text transform="translate(113.66,233.04) scale(0.9512,1)" font-size="31.5" fill="#000">0.06</text>
<text transform="translate(113.65,178.66) scale(0.9559,1)" font-size="31.5" fill="#000">0.08</text>
<text transform="translate(113.65,124.28) scale(0.9559,1)" font-size="31.5" fill="#000">0.10</text>
<text transform="translate(113.64,69.90) scale(0.9658,1)" font-size="31.5" fill="#000">0.12</text>
<text transform="translate(113.16,768.70) scale(0.9527,1)" font-size="31.5" fill="#000">0.85</text>
<text transform="translate(113.65,697.92) scale(0.9616,1)" font-size="31.5" fill="#000">0.90</text>
<text transform="translate(113.65,626.74) scale(0.9621,1)" font-size="31.5" fill="#000">0.95</text>
<text transform="translate(114.16,555.56) scale(0.9520,1)" font-size="31.5" fill="#000">1.00</text>
<text transform="translate(114.16,484.38) scale(0.9525,1)" font-size="31.5" fill="#000">1.05</text>
<text transform="translate(114.16,413.20) scale(0.9520,1)" font-size="31.5" fill="#000">1.10</text>
<text transform="translate(153.97,792.70) scale(0.9412,1)" font-size="31.5" fill="#000">0.0</text>
<text transform="translate(273.59,792.70) scale(0.9551,1)" font-size="31.5" fill="#000">0.2</text>
<text transform="translate(393.27,792.70) scale(0.9235,1)" font-size="31.5" fill="#000">0.4</text>
<text transform="translate(512.90,792.70) scale(0.9346,1)" font-size="31.5" fill="#000">0.6</text>
<text transform="translate(632.53,792.70) scale(0.9412,1)" font-size="31.5" fill="#000">0.8</text>
<text transform="translate(752.70,792.70) scale(0.8840,1)" font-size="31.5" fill="#000">1.0</text>
<text transform="translate(379.92,250.05) scale(0.9536,1)" font-size="24.3" fill="#000">0.0</text>
<text transform="translate(379.92,210.53) scale(0.9544,1)" font-size="24.3" fill="#000">0.5</text>
<text transform="translate(379.97,171.00) scale(0.9519,1)" font-size="24.3" fill="#000">1.0</text>
<text transform="translate(379.97,131.48) scale(0.9527,1)" font-size="24.3" fill="#000">1.5</text>
<text transform="translate(379.78,91.95) scale(0.9584,1)" font-size="24.3" fill="#000">2.0</text>
<text transform="translate(379.78,52.43) scale(0.9592,1)" font-size="24.3" fill="#000">2.5</text>
<text transform="translate(405.90,273.30) scale(0.9676,1)" font-size="24.3" fill="#000">0.0</text>
<text transform="translate(469.47,273.30) scale(0.9819,1)" font-size="24.3" fill="#000">0.2</text>
<text transform="translate(533.08,273.30) scale(0.9494,1)" font-size="24.3" fill="#000">0.4</text>
<text transform="translate(596.65,273.30) scale(0.9608,1)" font-size="24.3" fill="#000">0.6</text>
<text transform="translate(660.22,273.30) scale(0.9676,1)" font-size="24.3" fill="#000">0.8</text>
<text transform="translate(724.78,273.30) scale(0.9446,1)" font-size="24.3" fill="#000">1.0</text>
<text transform="translate(-0.20,25.20) scale(1.0736,1)" font-size="36" fill="#000">(a)</text>
<text transform="translate(-0.09,414.00) scale(1.0074,1)" font-size="36" fill="#000">(b)</text>
<text transform="translate(268.02,176.82) scale(1.0343,1.0000)" font-size="38.70" fill="#0000ff" stroke="#0000ff" stroke-width="0.5">S</text>
<text transform="translate(288.44,176.70) scale(1.0588,1.0000)" font-size="38.18" fill="#0000ff" stroke="#0000ff" stroke-width="0.2">L</text>
<text transform="translate(434.92,672.72) scale(1.0343,1.0000)" font-size="38.70" fill="#0000ff" stroke="#0000ff" stroke-width="0.5">S</text>
<text transform="translate(455.34,672.60) scale(1.0588,1.0000)" font-size="38.18" fill="#0000ff" stroke="#0000ff" stroke-width="0.2">L</text>
<text transform="translate(195.09,287.82) scale(0.9960,1.0000)" font-size="38.67" fill="#ff0000" stroke="#ff0000" stroke-width="0.2">U</text>
<text transform="translate(220.59,291.66) scale(1.0979,1.0978)" font-size="36.80" fill="#ff0000" stroke="#ff0000" stroke-width="0.3">=</text>
<text transform="translate(243.40,287.82) scale(1.0227,1.0000)" font-size="38.53" fill="#ff0000" stroke="#ff0000" stroke-width="0.2">0</text>
<text transform="translate(308.59,657.82) scale(0.9960,1.0000)" font-size="38.67" fill="#ff0000" stroke="#ff0000" stroke-width="0.2">U</text>
<text transform="translate(334.09,661.66) scale(1.0979,1.0978)" font-size="36.80" fill="#ff0000" stroke="#ff0000" stroke-width="0.3">=</text>
<text transform="translate(356.90,657.82) scale(1.0227,1.0000)" font-size="38.53" fill="#ff0000" stroke="#ff0000" stroke-width="0.2">0</text>
<text transform="translate(185.48,361.63) scale(1.0311,1.0000)" font-size="38.07" fill="#000">U</text>
<path d="M213.4,351.9 H238.1 M230.9,344.9 L238.3,351.9 L230.9,358.9" fill="none" stroke="#000" stroke-width="2.1" stroke-linejoin="miter"/>
<text transform="translate(240.21,364.46) scale(1.2239,1.0845)" font-size="36.80" fill="#000">∞</text>
<text transform="translate(394.88,472.83) scale(1.0311,1.0000)" font-size="38.07" fill="#000">U</text>
<path d="M422.8,463.1 H447.5 M440.3,456.1 L447.7,463.1 L440.3,470.1" fill="none" stroke="#000" stroke-width="2.1" stroke-linejoin="miter"/>
<text transform="translate(449.61,475.66) scale(1.2239,1.0845)" font-size="36.80" fill="#000">∞</text>
<text transform="translate(424.44,76.02) scale(1.1927,1.0000)" font-size="37.30" fill="#ff0000" font-style="italic">μ</text>
<text transform="translate(446.36,82.60) scale(1.0722,1.0000)" font-size="27.34" fill="#ff0000">L</text>
<text transform="translate(463.50,81.14) scale(0.9569,1.0000)" font-size="46.64" fill="#ff0000">/</text>
<text transform="translate(476.08,75.90) scale(1.0076,1.0000)" font-size="37.76" fill="#ff0000">k</text>
<text transform="translate(495.45,82.62) scale(0.9495,1.0000)" font-size="27.52" fill="#ff0000">B</text>
<text transform="translate(512.64,75.90) scale(0.9592,1.0000)" font-size="38.18" fill="#ff0000">T</text>
<text transform="translate(534.76,82.60) scale(1.0722,1.0000)" font-size="27.34" fill="#ff0000">L</text>
<text transform="translate(471.84,215.77) scale(1.2295,1.0000)" font-size="35.67" fill="#000000" font-style="italic">μ</text>
<text transform="translate(493.30,221.70) scale(1.1236,1.0000)" font-size="24.74" fill="#000000">R</text>
<text transform="translate(514.00,221.14) scale(0.9692,1.0000)" font-size="46.79" fill="#000000">/</text>
<text transform="translate(527.58,215.90) scale(1.0021,1.0000)" font-size="37.76" fill="#000000">k</text>
<text transform="translate(546.32,221.83) scale(1.0689,1.0000)" font-size="25.24" fill="#000000">B</text>
<text transform="translate(562.91,215.90) scale(1.0370,1.0000)" font-size="36.65" fill="#000000">T</text>
<text transform="translate(585.55,221.80) scale(1.1852,1.0000)" font-size="24.89" fill="#000000">L</text>
<text transform="translate(415.40,852.00) scale(0.9752,1.0000)" font-size="45.21" fill="#000">T</text>
<text transform="translate(441.15,859.30) scale(1.0235,1.0000)" font-size="32.07" fill="#000">R</text>
<text transform="translate(465.10,859.03) scale(0.9222,1.0000)" font-size="58.15" fill="#000">/</text>
<text transform="translate(480.29,852.00) scale(0.9867,1.0000)" font-size="45.21" fill="#000">T</text>
<text transform="translate(506.47,859.30) scale(1.1111,1.0000)" font-size="32.07" fill="#000">L</text>
<g transform="translate(89.6,312) rotate(-90)">
<path d="M10.4,-29.8 L1.6,-11.2 L10.4,7.4 M43.9,-29.8 L52.7,-11.2 L43.9,7.4" fill="none" stroke="#000" stroke-width="2.3" stroke-linejoin="miter"/>
<text transform="translate(14.19,0.00) scale(1.0915,1.0000)" font-size="44.75" fill="#000">P</text>
<text transform="translate(70.52,-0.97) scale(1.0721,1.0000)" font-size="42.13" fill="#000">(</text>
<text transform="translate(84.06,0.00) scale(1.0963,1.0000)" font-size="45.51" fill="#000">Γ</text>
<text transform="translate(113.20,0.00) scale(0.9586,1.0000)" font-size="43.81" fill="#000">k</text>
<text transform="translate(133.30,7.71) scale(0.9926,1.0000)" font-size="31.62" fill="#000">B</text>
<text transform="translate(157.21,0.00) scale(0.9508,1.0000)" font-size="45.82" fill="#000">T</text>
<text transform="translate(182.80,7.70) scale(1.1029,1.0000)" font-size="31.61" fill="#000">L</text>
<text transform="translate(202.71,-0.97) scale(1.0259,1.0000)" font-size="42.13" fill="#000">)</text>
</g>
<g transform="translate(90.2,600.3) rotate(-90)">
<text transform="translate(-1.96,0.04) scale(1.0137,1.0000)" font-size="47.18" fill="#000">C</text>
<text transform="translate(28.49,7.70) scale(1.0477,1.0000)" font-size="33.60" fill="#000">N</text>
</g>
</svg>
</body></html>
